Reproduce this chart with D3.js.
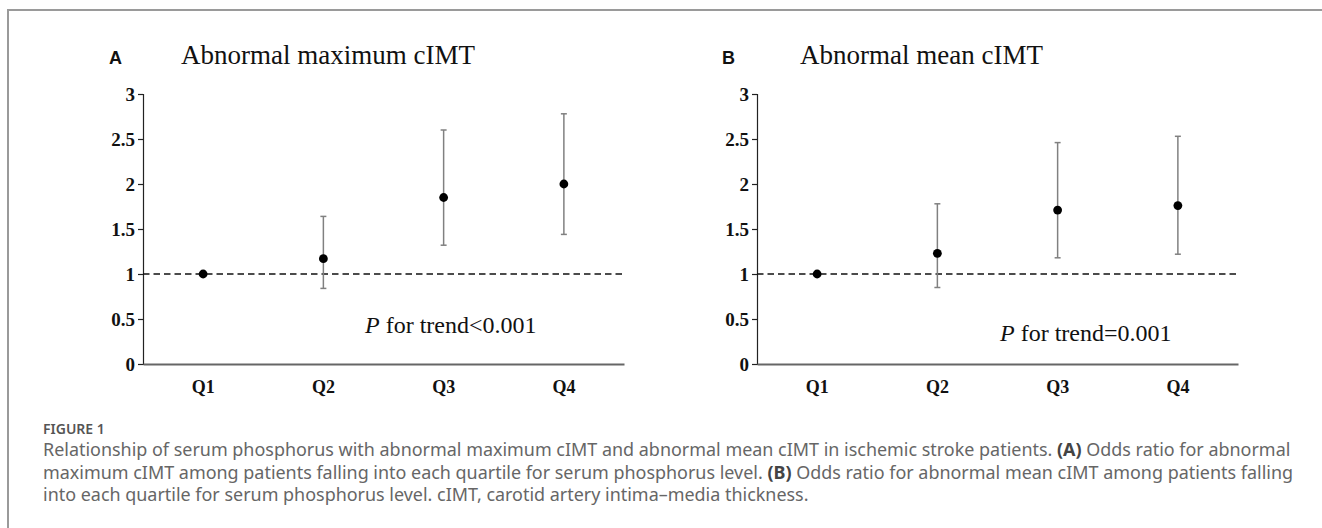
<!DOCTYPE html>
<html>
<head>
<meta charset="utf-8">
<script src="https://cdn.jsdelivr.net/npm/d3@7"></script>
<style>
  body { margin: 0; background: #fff; }
  svg { display: block; }
</style>
</head>
<body>
<script>
// quartiles and odds ratios
const quartiles = ["Q1", "Q2", "Q3", "Q4"];
const yTicks = [0, 0.5, 1, 1.5, 2, 2.5, 3];

const maxOR = [1.00, 1.17, 1.85, 2.00];
const maxLow = [null, 0.84, 1.32, 1.44];
const maxHigh = [null, 1.64, 2.60, 2.78];

const meanOR = [1.00, 1.23, 1.71, 1.76];
const meanLow = [null, 0.85, 1.18, 1.22];
const meanHigh = [null, 1.78, 2.46, 2.53];

const panels = [
  { letter: "A", title: "Abnormal maximum cIMT", trend: "for trend<0.001",
    or: maxOR, low: maxLow, high: maxHigh, left: 143, letterX: 109, titleX: 181, trendX: 365, trendY: 333 },
  { letter: "B", title: "Abnormal mean cIMT", trend: "for trend=0.001",
    or: meanOR, low: meanLow, high: meanHigh, left: 757, letterX: 722, titleX: 800, trendX: 1000, trendY: 341 }
];

const captionLines = [
  [["Relationship of serum phosphorus with abnormal maximum cIMT and abnormal mean cIMT in ischemic stroke patients. ", false], ["(A)", true], [" Odds ratio for abnormal", false]],
  [["maximum cIMT among patients falling into each quartile for serum phosphorus level. ", false], ["(B)", true], [" Odds ratio for abnormal mean cIMT among patients falling", false]],
  [["into each quartile for serum phosphorus level. cIMT, carotid artery intima\u2013media thickness.", false]]
];

const W = 1322, H = 528;
const plotW = 481, plotTop = 94, plotBottom = 364;

let svg = d3.select("body").append("svg")
  .attr("width", W)
  .attr("height", H);

// frame
svg.append("path")
  .attr("d", `M8,${H} V10 H${W}`)
  .attr("fill", "none")
  .attr("stroke", "#9a9a9a")
  .attr("stroke-width", 2);

let y = d3.scaleLinear().domain([0, 3]).range([plotBottom, plotTop]);

panels.forEach(p => {
  let x = d3.scaleBand().domain(quartiles).range([p.left, p.left + plotW]);
  let g = svg.append("g");

  g.append("text")
    .attr("x", p.letterX).attr("y", 64)
    .attr("font-family", "Liberation Sans, Arial, sans-serif")
    .attr("font-weight", "bold")
    .attr("font-size", "18px")
    .attr("fill", "#111")
    .text(p.letter);

  g.append("text")
    .attr("x", p.titleX).attr("y", 64)
    .attr("font-family", "Liberation Serif, Times New Roman, serif")
    .attr("font-size", "27px")
    .attr("fill", "#111")
    .text(p.title);

  // y axis
  let yAxis = g.append("g")
    .attr("transform", `translate(${p.left},0)`)
    .call(d3.axisLeft(y).tickValues(yTicks).tickSize(5).tickPadding(3)
      .tickFormat(d => d3.format("")(d)));
  yAxis.select(".domain").attr("stroke", "#222").attr("stroke-width", 1.2);
  yAxis.selectAll(".tick line").attr("stroke", "#222").attr("stroke-width", 1.2);
  yAxis.selectAll(".tick text")
    .attr("font-family", "Liberation Serif, Times New Roman, serif")
    .attr("font-weight", "bold")
    .attr("font-size", "19px")
    .attr("fill", "#111");

  // x axis
  let xAxis = g.append("g")
    .attr("transform", `translate(0,${plotBottom})`)
    .call(d3.axisBottom(x).tickSize(0).tickPadding(16));
  xAxis.select(".domain").attr("stroke", "#666").attr("stroke-width", 2);
  xAxis.selectAll(".tick text")
    .attr("font-family", "Liberation Serif, Times New Roman, serif")
    .attr("font-weight", "bold")
    .attr("font-size", "18px")
    .attr("fill", "#111");

  // reference line at OR = 1
  g.append("line")
    .attr("x1", p.left).attr("x2", p.left + plotW)
    .attr("y1", y(1)).attr("y2", y(1))
    .attr("stroke", "#111")
    .attr("stroke-width", 1.6)
    .attr("stroke-dasharray", "6.5,4");

  let rows = quartiles.map((q, i) => ({ q: q, or: p.or[i], low: p.low[i], high: p.high[i] }));
  let cx = d => x(d.q) + x.bandwidth() / 2;

  let bars = g.selectAll(".err")
    .data(rows.filter(d => d.low != null))
    .enter().append("g")
    .attr("stroke", "#808080")
    .attr("stroke-width", 1.5);
  bars.append("line")
    .attr("x1", cx).attr("x2", cx)
    .attr("y1", d => y(d.low)).attr("y2", d => y(d.high));
  bars.append("line")
    .attr("x1", d => cx(d) - 3).attr("x2", d => cx(d) + 3)
    .attr("y1", d => y(d.low)).attr("y2", d => y(d.low));
  bars.append("line")
    .attr("x1", d => cx(d) - 3).attr("x2", d => cx(d) + 3)
    .attr("y1", d => y(d.high)).attr("y2", d => y(d.high));

  g.selectAll(".pt")
    .data(rows)
    .enter().append("circle")
    .attr("cx", cx)
    .attr("cy", d => y(d.or))
    .attr("r", 4.4)
    .attr("fill", "#000");

  let t = g.append("text")
    .attr("x", p.trendX).attr("y", p.trendY)
    .attr("font-family", "Liberation Serif, Times New Roman, serif")
    .attr("font-size", "24px")
    .attr("fill", "#111");
  t.append("tspan").attr("font-style", "italic").text("P");
  t.append("tspan").text(" " + p.trend);
});

// caption
svg.append("text")
  .attr("x", 43).attr("y", 434)
  .attr("font-family", "Noto Sans, Open Sans, sans-serif")
  .attr("font-weight", "600")
  .attr("font-size", "14px")
  .attr("fill", "#555")
  .text("FIGURE 1");

let capLines = captionLines.map((parts, i) => {
  let line = svg.append("text")
    .attr("x", 43).attr("y", 456 + i * 22.5)
    .attr("font-family", "Noto Sans, Open Sans, sans-serif")
    .attr("font-size", "15.5px")
    .attr("fill", "#666");
  parts.forEach(part => {
    line.append("tspan")
      .attr("font-weight", part[1] ? "bold" : "normal")
      .attr("fill", part[1] ? "#444" : "#666")
      .text(part[0]);
  });
  return line;
});

// size the caption so the first line runs to the right edge, as in the figure
let w1 = capLines[0].node().getComputedTextLength();
let capSize = 15.5 * 1248 / w1;
capLines.forEach(l => l.attr("font-size", capSize + "px"));
</script>
</body>
</html>
